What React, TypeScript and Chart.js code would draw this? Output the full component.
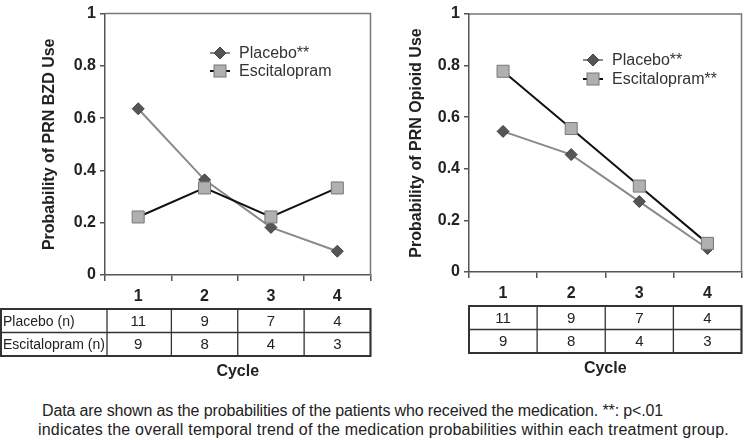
import React, { useEffect, useRef } from 'react';
import { Chart, registerables } from 'chart.js';

Chart.register(...registerables);

const cycles = ['1', '2', '3', '4'];
const bzdPlacebo = [0.636, 0.364, 0.182, 0.091];
const bzdEscitalopram = [0.222, 0.333, 0.222, 0.333];
const opioidPlacebo = [0.545, 0.455, 0.273, 0.091];
const opioidEscitalopram = [0.778, 0.556, 0.333, 0.111];
const placeboN = [11, 9, 7, 4];
const escitalopramN = [9, 8, 4, 3];
const rowLabels = ['Placebo (n)', 'Escitalopram (n)'];
const yTicks = [0, 0.2, 0.4, 0.6, 0.8, 1];

const FONT = '"Liberation Sans", Arial, Helvetica, sans-serif';
const TEXT = '#222';

type PanelProps = {
  left: number;
  width: number;
  height: number;
  yTitle: string;
  placebo: number[];
  escit: number[];
  placeboLabel: string;
  escitLabel: string;
  axisWidth: number;
  padTop: number;
  padRight: number;
  titlePad: number;
  chartBottom: number;
  legendX: number;
  legendY: number;
  legendGap: number;
  showRowLabels: boolean;
};

function drawMarker(ctx: CanvasRenderingContext2D, kind: string, x: number, y: number) {
  ctx.save();
  if (kind === 'diamond') {
    const r = 6;
    ctx.beginPath();
    ctx.moveTo(x, y - r);
    ctx.lineTo(x + r, y);
    ctx.lineTo(x, y + r);
    ctx.lineTo(x - r, y);
    ctx.closePath();
    ctx.fillStyle = '#555';
    ctx.strokeStyle = '#444';
    ctx.lineWidth = 1;
    ctx.fill();
    ctx.stroke();
  } else {
    const s = 6;
    ctx.fillStyle = '#b0b0b0';
    ctx.strokeStyle = '#777';
    ctx.lineWidth = 1;
    ctx.fillRect(x - s, y - s, 2 * s, 2 * s);
    ctx.strokeRect(x - s, y - s, 2 * s, 2 * s);
  }
  ctx.restore();
}

function Panel(p: PanelProps) {
  const ref = useRef<HTMLCanvasElement | null>(null);
  useEffect(() => {
    if (!ref.current) return;
    const extras = {
      id: 'extras',
      afterDraw(chart: any) {
        const { ctx, chartArea } = chart;
        const ca = chartArea;
        ctx.save();
        // frame top/right
        ctx.strokeStyle = '#777';
        ctx.lineWidth = 1.5;
        ctx.beginPath();
        ctx.moveTo(ca.left, ca.top);
        ctx.lineTo(ca.right, ca.top);
        ctx.lineTo(ca.right, ca.bottom);
        ctx.stroke();

        // legend
        const kinds = ['diamond', 'square'];
        chart.data.datasets.forEach((ds: any, i: number) => {
          const y = p.legendY + i * p.legendGap;
          const x0 = p.legendX;
          ctx.strokeStyle = ds.borderColor;
          ctx.lineWidth = ds.borderWidth;
          ctx.beginPath();
          ctx.moveTo(x0, y);
          ctx.lineTo(x0 + 20, y);
          ctx.stroke();
          drawMarker(ctx, kinds[i], x0 + 10, y);
          ctx.fillStyle = '#333';
          ctx.font = `16px ${FONT}`;
          ctx.textAlign = 'left';
          ctx.textBaseline = 'middle';
          ctx.fillText(ds.label, x0 + 29, y + 1);
        });

        // table
        const n = cycles.length;
        const colW = (ca.right - ca.left) / n;
        const tTop = ca.bottom + 34;
        const rowH = 23.5;
        const tLeft = p.showRowLabels ? 1 : ca.left;
        const tRight = ca.right;
        ctx.strokeStyle = '#333';
        ctx.lineWidth = 1.3;
        ctx.beginPath();
        for (let r = 0; r <= 2; r++) {
          ctx.moveTo(tLeft, tTop + r * rowH);
          ctx.lineTo(tRight, tTop + r * rowH);
        }
        ctx.moveTo(tLeft, tTop);
        ctx.lineTo(tLeft, tTop + 2 * rowH);
        for (let c = 0; c <= n; c++) {
          const xx = ca.left + c * colW + (c === 0 && p.showRowLabels ? 2 : 0);
          ctx.moveTo(xx, tTop);
          ctx.lineTo(xx, tTop + 2 * rowH);
        }
        ctx.stroke();
        ctx.lineWidth = 2;
        ctx.strokeRect(tLeft, tTop, tRight - tLeft, 2 * rowH);

        const rows = [placeboN, escitalopramN];
        ctx.fillStyle = TEXT;
        ctx.textBaseline = 'middle';
        rows.forEach((vals, r) => {
          const cy = tTop + r * rowH + rowH / 2 + 1;
          ctx.font = `15px ${FONT}`;
          ctx.textAlign = 'center';
          vals.forEach((v, c) => {
            const cx = chart.scales.x.getPixelForValue(c);
            ctx.fillText(String(v), cx, cy);
          });
          if (p.showRowLabels) {
            ctx.font = `14px ${FONT}`;
            ctx.textAlign = 'left';
            ctx.fillText(rowLabels[r], 3, cy);
          }
        });

        // Cycle label
        ctx.font = `bold 16px ${FONT}`;
        ctx.textAlign = 'center';
        ctx.fillText('Cycle', (ca.left + ca.right) / 2, ca.bottom + 97);
        ctx.restore();
      },
    };

    const chart = new Chart(ref.current, {
      type: 'line',
      data: {
        labels: cycles,
        datasets: [
          {
            label: p.placeboLabel,
            data: p.placebo,
            borderColor: '#8a8a8a',
            borderWidth: 2,
            pointStyle: 'rectRot',
            pointRadius: 6,
            pointBackgroundColor: '#555',
            pointBorderColor: '#444',
            pointBorderWidth: 1,
            order: 1,
          },
          {
            label: p.escitLabel,
            data: p.escit,
            borderColor: '#111',
            borderWidth: 2,
            pointStyle: 'rect',
            pointRadius: 8.5,
            pointBackgroundColor: '#b0b0b0',
            pointBorderColor: '#777',
            pointBorderWidth: 1,
            order: 0,
          },
        ],
      },
      options: {
        animation: false,
        responsive: false,
        maintainAspectRatio: false,
        events: [],
        layout: { padding: { left: 0, right: p.padRight, top: p.padTop, bottom: 0 } },
        plugins: { legend: { display: false }, tooltip: { enabled: false } },
        scales: {
          x: {
            type: 'category',
            offset: true,
            afterFit: (s: any) => {
              s.height = p.height - p.chartBottom;
            },
            grid: {
              offset: true,
              drawOnChartArea: false,
              drawTicks: true,
              tickLength: 6,
              color: '#555',
              lineWidth: 1.5,
            },
            border: { display: true, color: '#555', width: 1.5 },
            ticks: {
              color: TEXT,
              font: { family: FONT, size: 16, weight: 'bold' },
              padding: 6,
              maxRotation: 0,
            },
          },
          y: {
            min: 0,
            max: 1,
            afterFit: (s: any) => {
              s.width = p.axisWidth;
            },
            afterBuildTicks: (s: any) => {
              s.ticks = yTicks.map((v) => ({ value: v }));
            },
            grid: {
              drawOnChartArea: false,
              drawTicks: true,
              tickLength: 5,
              color: '#555',
              lineWidth: 1.5,
            },
            border: { display: true, color: '#555', width: 1.5 },
            ticks: {
              color: TEXT,
              font: { family: FONT, size: 16, weight: 'bold' },
              padding: 4,
              callback: (v: any) => String(Number(v)),
            },
            title: {
              display: true,
              text: p.yTitle,
              color: TEXT,
              font: { family: FONT, size: 16, weight: 'bold' },
              padding: { top: p.titlePad, bottom: 0 },
            },
          },
        },
      },
      plugins: [extras],
    } as any);
    return () => chart.destroy();
  }, []);
  return (
    <canvas
      ref={ref}
      width={p.width}
      height={p.height}
      style={{ position: 'absolute', left: p.left, top: 0, width: p.width, height: p.height }}
    />
  );
}

export default function App() {
  return (
    <div
      style={{
        position: 'fixed',
        left: 0,
        top: 0,
        width: 751,
        height: 440,
        background: '#fff',
        overflow: 'hidden',
      }}
    >
      <Panel
        left={0}
        width={380}
        height={385}
        yTitle="Probability of PRN BZD Use"
        placebo={bzdPlacebo}
        escit={bzdEscitalopram}
        placeboLabel="Placebo**"
        escitLabel="Escitalopram"
        axisWidth={105}
        padTop={10}
        padRight={5}
        titlePad={40}
        chartBottom={275}
        legendX={210}
        legendY={53}
        legendGap={18}
        showRowLabels={true}
      />
      <Panel
        left={380}
        width={371}
        height={385}
        yTitle="Probability of PRN Opioid Use"
        placebo={opioidPlacebo}
        escit={opioidEscitalopram}
        placeboLabel="Placebo**"
        escitLabel="Escitalopram**"
        axisWidth={89}
        padTop={14}
        padRight={1}
        titlePad={27}
        chartBottom={272}
        legendX={203}
        legendY={60}
        legendGap={19}
        showRowLabels={false}
      />
      <div
        style={{
          position: 'absolute',
          left: 40,
          top: 401,
          fontFamily: FONT,
          fontSize: 16,
          lineHeight: '19px',
          color: TEXT,
          whiteSpace: 'nowrap',
        }}
      >
        <div style={{ paddingLeft: 2, letterSpacing: '-0.13px' }}>
          Data are shown as the probabilities of the patients who received the medication. **: p&lt;.01
        </div>
        <div style={{ marginLeft: -2, letterSpacing: '0.2px' }}>
          indicates the overall temporal trend of the medication probabilities within each treatment group.
        </div>
      </div>
    </div>
  );
}
